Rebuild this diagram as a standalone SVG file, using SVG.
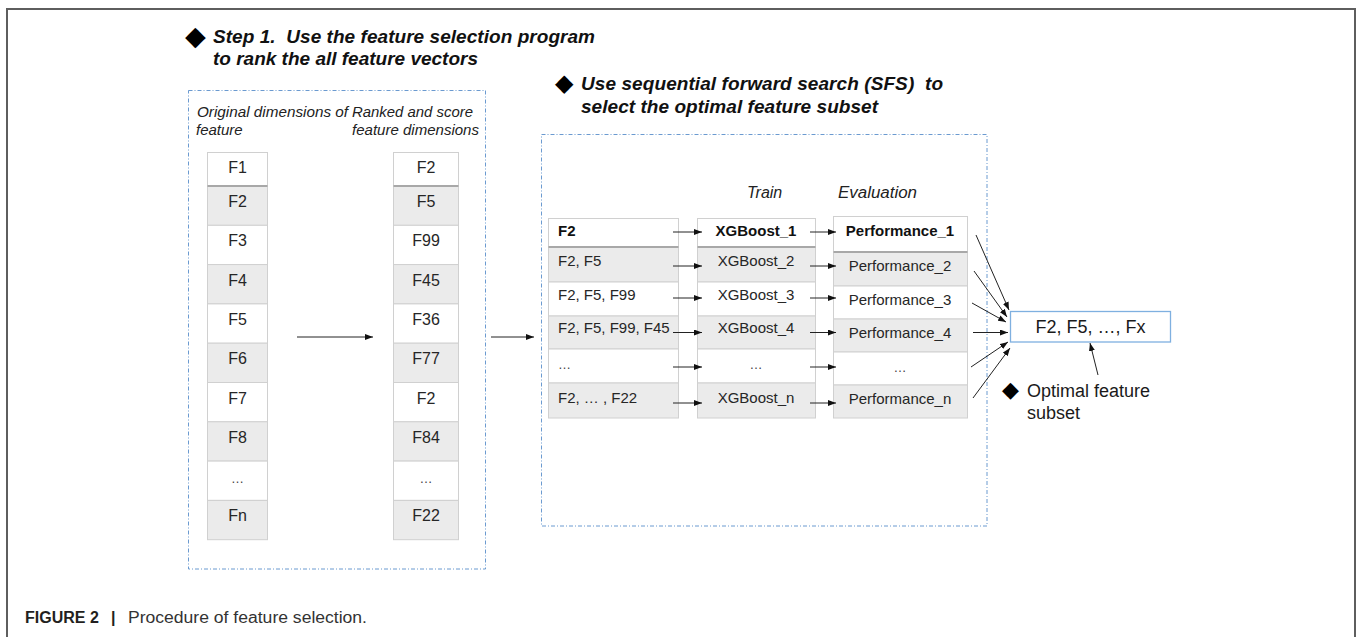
<svg xmlns="http://www.w3.org/2000/svg" width="1358" height="637" viewBox="0 0 1358 637">
<style>
.frame{fill:none;stroke:#5e5e5e;stroke-width:2}
.dash{fill:none;stroke:#6b9ad0;stroke-width:1;stroke-dasharray:4 2 1 2}
.title{font-family:"Liberation Sans",Arial,sans-serif;font-size:19px;font-weight:bold;font-style:italic;fill:#111;white-space:pre}
.bullet{font-family:"DejaVu Sans",sans-serif;fill:#000}
.hdr{font-family:"Liberation Sans",Arial,sans-serif;font-size:15px;font-style:italic;fill:#222}
.cell{font-family:"Liberation Sans",Arial,sans-serif;font-size:16px;fill:#262626;text-anchor:middle}
.sc{font-family:"Liberation Sans",Arial,sans-serif;font-size:15px;fill:#262626}
.mid{text-anchor:middle}
.b{font-weight:bold;fill:#111}
.dots{font-family:"Liberation Sans",Arial,sans-serif;font-size:13px;fill:#444}
.w{fill:#ffffff;stroke:#d0d0d0;stroke-width:1}
.g{fill:#ebebeb;stroke:#d0d0d0;stroke-width:1}
.sep{stroke:#a8a8a8;stroke-width:2}
.conn{stroke:#222;stroke-width:1;fill:none;marker-end:url(#ah)}
.res{fill:#fff;stroke:#7fb0e0;stroke-width:1.3}
.big{font-family:"Liberation Sans",Arial,sans-serif;font-size:18px;fill:#1a1a1a}
.cap{font-family:"Liberation Sans",Arial,sans-serif;font-size:16px;fill:#333}
</style>
<defs>
<marker id="ah" markerUnits="userSpaceOnUse" markerWidth="8" markerHeight="6" refX="8" refY="3" orient="auto">
<path d="M0,0 L8,3 L0,6 z" fill="#111"/>
</marker>
</defs>

<g id="outer-frame">
<path class="frame" d="M7,637 L7,9 L1355,9 L1355,637"/>
</g>

<g id="step1-title">
<text class="bullet" x="185" y="45" style="font-size:27px">◆</text>
<text class="title" x="213" y="43" textLength="382" lengthAdjust="spacing">Step 1.  Use the feature selection program</text>
<text class="title" x="213" y="65" textLength="265" lengthAdjust="spacing">to rank the all feature vectors</text>
</g>

<g id="sfs-title">
<text class="bullet" x="555" y="91" style="font-size:24px">◆</text>
<text class="title" x="581" y="90" textLength="362" lengthAdjust="spacing">Use sequential forward search (SFS)  to</text>
<text class="title" x="581" y="112.5" textLength="297" lengthAdjust="spacing">select the optimal feature subset</text>
</g>

<g id="ranking-box">
<rect class="dash" x="188.5" y="90.5" width="297" height="478.5"/>
<text class="hdr" x="197" y="117" textLength="151" lengthAdjust="spacingAndGlyphs">Original dimensions of</text>
<text class="hdr" x="352" y="117" textLength="121" lengthAdjust="spacingAndGlyphs">Ranked and score</text>
<text class="hdr" x="196" y="135">feature</text>
<text class="hdr" x="352" y="135" textLength="127" lengthAdjust="spacingAndGlyphs">feature dimensions</text>
</g>

<g id="original-list">
<rect class="w" x="207.5" y="152.5" width="60" height="33.5"/>
<rect class="g" x="207.5" y="186" width="60" height="39.3"/>
<rect class="w" x="207.5" y="225.3" width="60" height="39.3"/>
<rect class="g" x="207.5" y="264.6" width="60" height="39.3"/>
<rect class="w" x="207.5" y="303.9" width="60" height="39.3"/>
<rect class="g" x="207.5" y="343.2" width="60" height="39.3"/>
<rect class="w" x="207.5" y="382.5" width="60" height="39.3"/>
<rect class="g" x="207.5" y="421.8" width="60" height="39.3"/>
<rect class="w" x="207.5" y="461.1" width="60" height="39.3"/>
<rect class="g" x="207.5" y="500.4" width="60" height="39.3"/>
<line class="sep" x1="207.5" y1="186" x2="267.5" y2="186"/>
<text class="cell" x="237.5" y="173">F1</text>
<text class="cell" x="237.5" y="207">F2</text>
<text class="cell" x="237.5" y="246.3">F3</text>
<text class="cell" x="237.5" y="285.6">F4</text>
<text class="cell" x="237.5" y="324.9">F5</text>
<text class="cell" x="237.5" y="364.2">F6</text>
<text class="cell" x="237.5" y="403.5">F7</text>
<text class="cell" x="237.5" y="442.8">F8</text>
<text class="dots mid" x="237.5" y="483">…</text>
<text class="cell" x="237.5" y="521.4">Fn</text>
</g>

<g id="ranked-list">
<rect class="w" x="393.5" y="152.5" width="65" height="33.5"/>
<rect class="g" x="393.5" y="186" width="65" height="39.3"/>
<rect class="w" x="393.5" y="225.3" width="65" height="39.3"/>
<rect class="g" x="393.5" y="264.6" width="65" height="39.3"/>
<rect class="w" x="393.5" y="303.9" width="65" height="39.3"/>
<rect class="g" x="393.5" y="343.2" width="65" height="39.3"/>
<rect class="w" x="393.5" y="382.5" width="65" height="39.3"/>
<rect class="g" x="393.5" y="421.8" width="65" height="39.3"/>
<rect class="w" x="393.5" y="461.1" width="65" height="39.3"/>
<rect class="g" x="393.5" y="500.4" width="65" height="39.3"/>
<line class="sep" x1="393.5" y1="186" x2="458.5" y2="186"/>
<text class="cell" x="426" y="173">F2</text>
<text class="cell" x="426" y="207">F5</text>
<text class="cell" x="426" y="246.3">F99</text>
<text class="cell" x="426" y="285.6">F45</text>
<text class="cell" x="426" y="324.9">F36</text>
<text class="cell" x="426" y="364.2">F77</text>
<text class="cell" x="426" y="403.5">F2</text>
<text class="cell" x="426" y="442.8">F84</text>
<text class="dots mid" x="426" y="483">…</text>
<text class="cell" x="426" y="521.4">F22</text>
</g>

<g id="sfs-box">
<rect class="dash" x="541.5" y="134.5" width="445.5" height="391.5"/>
<text class="hdr" x="747" y="198" style="font-size:16px">Train</text>
<text class="hdr" x="838" y="198" style="font-size:16px" textLength="79" lengthAdjust="spacingAndGlyphs">Evaluation</text>
</g>

<g id="subset-column">
<rect class="w" x="548.5" y="218.5" width="130" height="28.5"/>
<rect class="g" x="548.5" y="247" width="130" height="35"/>
<rect class="w" x="548.5" y="282" width="130" height="34"/>
<rect class="g" x="548.5" y="316" width="130" height="33"/>
<rect class="w" x="548.5" y="349" width="130" height="34"/>
<rect class="g" x="548.5" y="383" width="130" height="35"/>
<line class="sep" x1="548.5" y1="247" x2="678.5" y2="247"/>
<text class="sc b" x="558" y="235.5">F2</text>
<text class="sc" x="558" y="265.5">F2, F5</text>
<text class="sc" x="558" y="300">F2, F5, F99</text>
<text class="sc" x="558" y="333">F2, F5, F99, F45</text>
<text class="dots" x="558" y="369">…</text>
<text class="sc" x="558" y="402.5">F2, … , F22</text>
</g>

<g id="train-column">
<rect class="w" x="697.5" y="218.5" width="118" height="28.5"/>
<rect class="g" x="697.5" y="247" width="118" height="35"/>
<rect class="w" x="697.5" y="282" width="118" height="34"/>
<rect class="g" x="697.5" y="316" width="118" height="33"/>
<rect class="w" x="697.5" y="349" width="118" height="34"/>
<rect class="g" x="697.5" y="383" width="118" height="35"/>
<line class="sep" x1="697.5" y1="247" x2="815.5" y2="247"/>
<text class="sc mid b" x="756" y="235.5">XGBoost_1</text>
<text class="sc mid" x="756" y="265.5">XGBoost_2</text>
<text class="sc mid" x="756" y="300">XGBoost_3</text>
<text class="sc mid" x="756" y="333">XGBoost_4</text>
<text class="dots mid" x="756" y="369">…</text>
<text class="sc mid" x="756" y="402.5">XGBoost_n</text>
</g>

<g id="evaluation-column">
<rect class="w" x="833.5" y="216.5" width="134" height="35.5"/>
<rect class="g" x="833.5" y="252" width="134" height="34"/>
<rect class="w" x="833.5" y="286" width="134" height="33"/>
<rect class="g" x="833.5" y="319" width="134" height="33"/>
<rect class="w" x="833.5" y="352" width="134" height="33"/>
<rect class="g" x="833.5" y="385" width="134" height="33"/>
<line class="sep" x1="833.5" y1="252" x2="967.5" y2="252"/>
<text class="sc mid b" x="900" y="235.5">Performance_1</text>
<text class="sc mid" x="900" y="271">Performance_2</text>
<text class="sc mid" x="900" y="305">Performance_3</text>
<text class="sc mid" x="900" y="337.5">Performance_4</text>
<text class="dots mid" x="900" y="372">…</text>
<text class="sc mid" x="900" y="403.5">Performance_n</text>
</g>

<g id="result-node">
<rect class="res" x="1010.5" y="311.5" width="160" height="30.5"/>
<text class="big mid" x="1090.5" y="333">F2, F5, …, Fx</text>
</g>

<g id="result-label">
<text class="bullet" x="1002" y="397" style="font-size:22px">◆</text>
<text class="big" x="1027" y="397">Optimal feature</text>
<text class="big" x="1027" y="419">subset</text>
</g>

<g id="caption">
<text class="cap" x="25" y="623" style="font-weight:bold;fill:#231f20">FIGURE 2</text>
<text class="cap" x="111" y="623" style="font-weight:bold;fill:#231f20">|</text>
<text class="cap" x="128" y="623" textLength="239" lengthAdjust="spacingAndGlyphs">Procedure of feature selection.</text>
</g>

<g id="connectors">
<line class="conn" x1="297" y1="337" x2="373" y2="337"/>
<line class="conn" x1="491" y1="337" x2="534" y2="337"/>
<line class="conn" x1="673" y1="232" x2="702" y2="232"/>
<line class="conn" x1="673" y1="266" x2="702" y2="266"/>
<line class="conn" x1="673" y1="298" x2="702" y2="298"/>
<line class="conn" x1="673" y1="332.5" x2="702" y2="332.5"/>
<line class="conn" x1="673" y1="367" x2="702" y2="367"/>
<line class="conn" x1="673" y1="403" x2="702" y2="403"/>
<line class="conn" x1="810" y1="232" x2="836" y2="232"/>
<line class="conn" x1="810" y1="266" x2="836" y2="266"/>
<line class="conn" x1="810" y1="298" x2="836" y2="298"/>
<line class="conn" x1="810" y1="332.5" x2="836" y2="332.5"/>
<line class="conn" x1="810" y1="367" x2="836" y2="367"/>
<line class="conn" x1="810" y1="403" x2="836" y2="403"/>
<line class="conn" x1="976" y1="235" x2="1009" y2="310"/>
<line class="conn" x1="974" y1="271" x2="1007" y2="317"/>
<line class="conn" x1="972" y1="303" x2="1006" y2="322"/>
<line class="conn" x1="973" y1="332.5" x2="1008" y2="332.5"/>
<line class="conn" x1="971" y1="367" x2="1008" y2="342"/>
<line class="conn" x1="973" y1="398" x2="1010" y2="348"/>
<line class="conn" x1="1098" y1="375" x2="1090" y2="343"/>
</g>
</svg>
